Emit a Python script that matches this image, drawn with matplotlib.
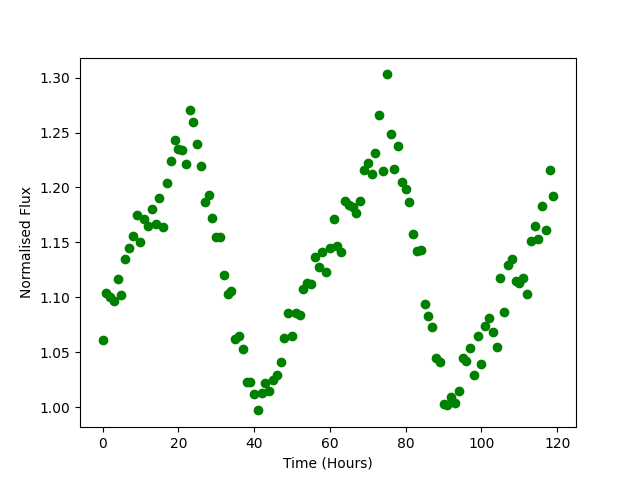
import matplotlib
matplotlib.use('Agg')
import matplotlib.pyplot as plt
import numpy as np

hours = np.arange(120)
flux = [1.061, 1.104, 1.100, 1.097, 1.117, 1.102, 1.135, 1.145, 1.156, 1.175,
        1.150, 1.171, 1.165, 1.180, 1.167, 1.190, 1.164, 1.204, 1.224, 1.243,
        1.235, 1.234, 1.221, 1.271, 1.260, 1.240, 1.220, 1.187, 1.193, 1.172,
        1.155, 1.155, 1.120, 1.103, 1.106, 1.062, 1.065, 1.053, 1.023, 1.023,
        1.012, 0.997, 1.013, 1.022, 1.015, 1.025, 1.029, 1.041, 1.063, 1.086,
        1.065, 1.086, 1.084, 1.108, 1.113, 1.112, 1.137, 1.128, 1.141, 1.123,
        1.145, 1.171, 1.147, 1.141, 1.188, 1.184, 1.182, 1.177, 1.188, 1.216,
        1.222, 1.212, 1.231, 1.266, 1.215, 1.303, 1.249, 1.217, 1.238, 1.205,
        1.199, 1.187, 1.158, 1.142, 1.143, 1.094, 1.083, 1.073, 1.045, 1.041,
        1.003, 1.002, 1.009, 1.004, 1.015, 1.045, 1.042, 1.054, 1.029, 1.065,
        1.039, 1.074, 1.081, 1.068, 1.055, 1.118, 1.087, 1.129, 1.135, 1.115,
        1.113, 1.118, 1.103, 1.151, 1.165, 1.153, 1.183, 1.161, 1.216, 1.192]

fig = plt.figure(figsize=(6.4, 4.8), dpi=100)
plt.plot(hours, flux, 'o', color='green')
plt.xlabel('Time (Hours)')
plt.ylabel('Normalised Flux')
plt.savefig('out.png')
